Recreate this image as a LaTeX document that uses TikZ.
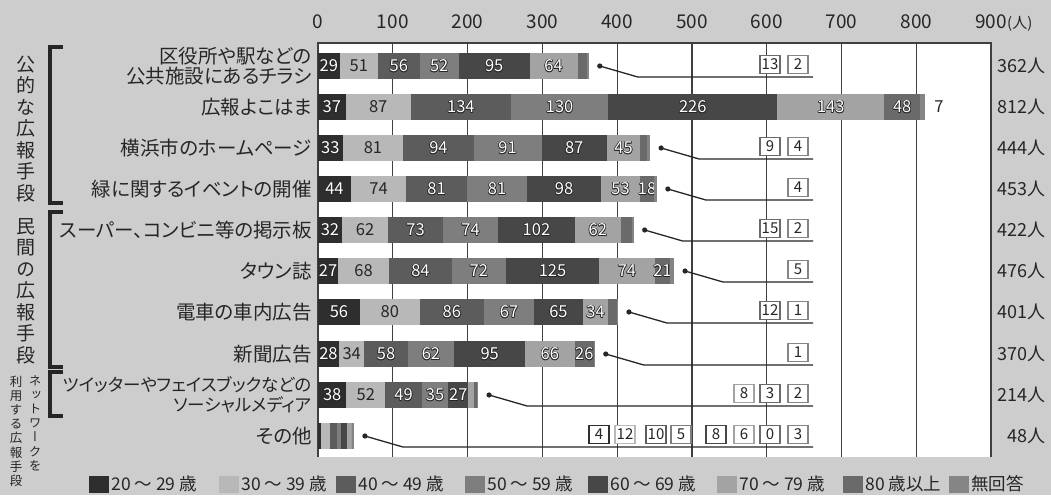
\documentclass[tikz,border=0pt]{standalone}
\usepackage{fontspec}
\setmainfont{Noto Sans CJK JP}[RawFeature=+palt]
\newfontfamily\vertfont{Noto Sans CJK JP}[RawFeature=+vert]
\usetikzlibrary{positioning}

\definecolor{age1}{HTML}{2E2E2E}
\definecolor{age2}{HTML}{B8B8B8}
\definecolor{age3}{HTML}{5C5C5C}
\definecolor{age4}{HTML}{7E7E7E}
\definecolor{age5}{HTML}{474747}
\definecolor{age6}{HTML}{A3A3A3}
\definecolor{age7}{HTML}{6A6A6A}
\definecolor{age8}{HTML}{858585}
\definecolor{paper}{HTML}{CDCDCD}
\definecolor{ink}{HTML}{262626}

% white figures with a dark rim
\newcommand\halo[1]{{\def\rim##1##2{\rlap{\kern##1\raisebox{##2}{\color{ink}#1}}}%
  \rim{-.7pt}{0pt}\rim{.7pt}{0pt}\rim{0pt}{.7pt}\rim{0pt}{-.7pt}%
  \rim{.5pt}{.5pt}\rim{-.5pt}{.5pt}\rim{.5pt}{-.5pt}\rim{-.5pt}{-.5pt}%
  \color{white}#1}}

% one bar: name, y, counts, how many parts get a figure
\newcommand\agebar[4]{%
  \gdef\cum{0}%
  \foreach \v [count=\k] in {#3}{%
    \pgfmathsetmacro\xa{318+0.748*\cum}%
    \pgfmathsetmacro\xb{318+0.748*(\cum+\v)}%
    \fill[fill=age\k] (\xa,#2-13) rectangle (\xb,#2+13);
    \ifnum\k>#4 \else
      \ifnum\k=2 \node[barnum,text=ink] (#1-\k) at ({(\xa+\xb)/2},#2) {\v};%
      \else \node[barnum] (#1-\k) at ({(\xa+\xb)/2},#2) {\halo{\v}};\fi
    \fi
    \pgfmathsetmacro\nxt{\cum+\v}%
    \global\let\cum\nxt
  }}

% leader from the end of a bar: name, y, total
\newcommand\leader[3]{%
  \pgfmathsetmacro\xd{318+0.748*#3+11}%
  \coordinate (#1-dot) at (\xd,#2);
  \coordinate (#1-bend) at (\xd+38,#2+11);
  \coordinate (#1-end) at (813,#2+11);
  \fill[ink] (#1-dot) circle (2.6pt);
  \draw[leaderline] (#1-dot) -- (#1-bend) -- (#1-end);}

% boxed count on a leader: name, y, age group, count
\newcommand\countbox[4]{%
  \pgfmathsetmacro\sx{{599,625,656,681,716,744,770,798}[#3-1]}%
  \node[cbox,draw=age#3] (#1) at (\sx,#2-1.5) {#4};}

\begin{document}
\begin{tikzpicture}[x=1pt,y=-1pt,
  rowlabel/.style={anchor=east,align=right,inner sep=0pt,text=ink,font=\fontsize{19.5}{19.5}\selectfont},
  barnum/.style={inner sep=0pt,font=\fontsize{16.5}{16.5}\selectfont},
  cbox/.style={fill=white,line width=1.1pt,inner sep=0pt,minimum width=20,minimum height=18,text=ink,font=\fontsize{15}{15}\selectfont},
  total/.style={anchor=east,inner sep=0pt,text=ink,font=\fontsize{18}{18}\selectfont},
  axisnum/.style={inner sep=0pt,text=ink,font=\fontsize{19}{19}\selectfont},
  grp/.style={align=center,inner sep=0pt,text=ink,font=\fontsize{19}{21.5}\vertfont},
  grpsmall/.style={align=center,inner sep=0pt,text=ink,font=\fontsize{12.5}{14.2}\vertfont},
  legsq/.style={minimum width=20,minimum height=17,inner sep=0pt},
  legtext/.style={inner sep=0pt,text=ink,font=\fontsize{17.5}{17.5}\selectfont},
  gridline/.style={line width=1.2pt,black!75},
  leaderline/.style={line width=1.3pt,ink},
  bracket/.style={line width=4.5pt,ink}]

\fill[paper] (0,0) rectangle (1051,495);
\useasboundingbox (0,0) rectangle (1051,495);

% plot area and grid
\fill[white] (318,43) rectangle (991,457);
\foreach \t in {100,200,...,800}
  \draw[gridline] ({318+0.748*\t},43) -- ({318+0.748*\t},457);
\draw[gridline] (318,457) -- (318,43) -- (991,43) -- (991,457);

% axis figures
\foreach \t in {0,100,...,800}
  \node[axisnum] (ax\t) at ({318+0.748*\t},22) {\t};
\node[axisnum] (ax900) at (991,22) {900};
\node[axisnum,anchor=base west,font=\fontsize{15}{15}\selectfont] (axunit) at (ax900.base east) {(人)};

% bars
\agebar{r1}{66}{29,51,56,52,95,64,13,2}{6}
\agebar{r2}{107}{37,87,134,130,226,143,48,7}{7}
\agebar{r3}{148}{33,81,94,91,87,45,9,4}{6}
\agebar{r4}{189}{44,74,81,81,98,53,18,4}{7}
\agebar{r5}{230}{32,62,73,74,102,62,15,2}{6}
\agebar{r6}{271}{27,68,84,72,125,74,21,5}{7}
\agebar{r7}{312}{56,80,86,67,65,34,12,1}{6}
\agebar{r8}{354}{28,34,58,62,95,66,26,1}{7}
\agebar{r9}{395}{38,52,49,35,27,8,3,2}{5}
\agebar{r10}{436}{4,12,10,5,8,6,0,3}{0}
\node[barnum,text=ink] (r2-8) at (939,107) {7};

% leaders and boxed counts
\leader{l1}{66}{362}
\leader{l3}{148}{444}
\leader{l4}{189}{453}
\leader{l5}{230}{422}
\leader{l6}{271}{476}
\leader{l7}{312}{401}
\leader{l8}{354}{370}
\leader{l9}{395}{214}
\leader{l10}{436}{48}
\countbox{b1g}{66}{7}{13}
\countbox{b1h}{66}{8}{2}
\countbox{b3g}{148}{7}{9}
\countbox{b3h}{148}{8}{4}
\countbox{b4h}{189}{8}{4}
\countbox{b5g}{230}{7}{15}
\countbox{b5h}{230}{8}{2}
\countbox{b6h}{271}{8}{5}
\countbox{b7g}{312}{7}{12}
\countbox{b7h}{312}{8}{1}
\countbox{b8h}{354}{8}{1}
\countbox{b9f}{395}{6}{8}
\countbox{b9g}{395}{7}{3}
\countbox{b9h}{395}{8}{2}
\countbox{b10a}{436}{1}{4}
\countbox{b10b}{436}{2}{12}
\countbox{b10c}{436}{3}{10}
\countbox{b10d}{436}{4}{5}
\countbox{b10e}{436}{5}{8}
\countbox{b10f}{436}{6}{6}
\countbox{b10g}{436}{7}{0}
\countbox{b10h}{436}{8}{3}

% row names
\node[rowlabel] (n1) at (312,66) {区役所や駅などの\\公共施設にあるチラシ};
\node[rowlabel] (n2) at (312,107) {広報よこはま};
\node[rowlabel] (n3) at (312,148) {横浜市のホームページ};
\node[rowlabel] (n4) at (312,189) {緑に関するイベントの開催};
\node[rowlabel] (n5) at (312,230) {スーパー、コンビニ等の掲示板};
\node[rowlabel] (n6) at (312,271) {タウン誌};
\node[rowlabel] (n7) at (312,312) {電車の車内広告};
\node[rowlabel] (n8) at (312,354) {新聞広告};
\node[rowlabel,font=\fontsize{17.5}{19.5}\selectfont] (n9) at (312,395) {ツイッターやフェイスブックなどの\\ソーシャルメディア};
\node[rowlabel] (n10) at (312,436) {その他};

% totals
\node[total] (t1) at (1046,66) {362人};
\node[total] (t2) at (1046,107) {812人};
\node[total] (t3) at (1046,148) {444人};
\node[total] (t4) at (1046,189) {453人};
\node[total] (t5) at (1046,230) {422人};
\node[total] (t6) at (1046,271) {476人};
\node[total] (t7) at (1046,312) {401人};
\node[total] (t8) at (1046,354) {370人};
\node[total] (t9) at (1046,395) {214人};
\node[total] (t10) at (1046,436) {48人};

% groups
\draw[bracket] (63,47) -- (50,47) -- (50,203) -- (63,203);
\draw[bracket] (63,212) -- (50,212) -- (50,367) -- (63,367);
\draw[bracket] (63,372) -- (50,372) -- (50,416) -- (63,416);
\node[grp] (g1) at (26,129) {公\\的\\な\\広\\報\\手\\段};
\node[grp] (g2) at (26,291) {民\\間\\の\\広\\報\\手\\段};
\node[grpsmall] (g3a) at (35,423) {ネ\\ッ\\ト\\ワ\\ー\\ク\\を};
\node[grpsmall] (g3b) at (16,431) {利\\用\\す\\る\\広\\報\\手\\段};

% legend
\node[legsq,fill=age1] (k1) at (99,484) {};
\node[legtext,right=2pt of k1] (kt1) {20 ～ 29 歳};
\node[legsq,fill=age2] (k2) at (229,484) {};
\node[legtext,right=2pt of k2] (kt2) {30 ～ 39 歳};
\node[legsq,fill=age3] (k3) at (346,484) {};
\node[legtext,right=2pt of k3] (kt3) {40 ～ 49 歳};
\node[legsq,fill=age4] (k4) at (475,484) {};
\node[legtext,right=2pt of k4] (kt4) {50 ～ 59 歳};
\node[legsq,fill=age5] (k5) at (598,484) {};
\node[legtext,right=2pt of k5] (kt5) {60 ～ 69 歳};
\node[legsq,fill=age6] (k6) at (727,484) {};
\node[legtext,right=2pt of k6] (kt6) {70 ～ 79 歳};
\node[legsq,fill=age7] (k7) at (853,484) {};
\node[legtext,right=2pt of k7] (kt7) {80 歳以上};
\node[legsq,fill=age8] (k8) at (959,484) {};
\node[legtext,right=2pt of k8] (kt8) {無回答};
\end{tikzpicture}
\end{document}
